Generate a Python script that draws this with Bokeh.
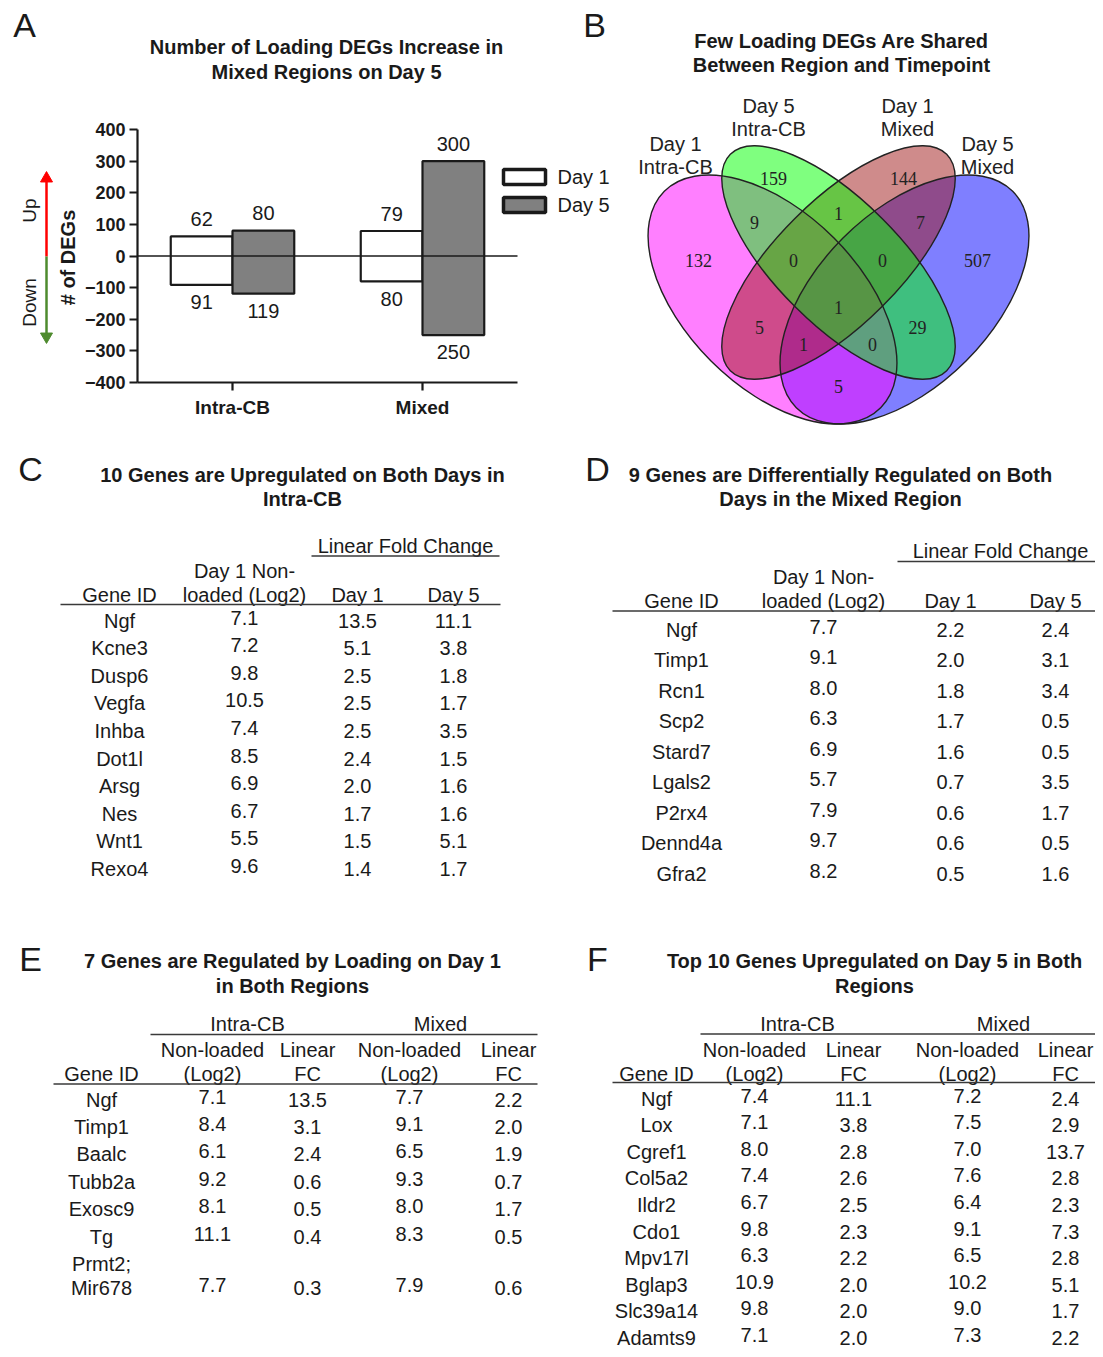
import math
from bokeh.plotting import figure
from bokeh.layouts import column, row
from bokeh.models import Range1d, FixedTicker, ColumnDataSource
from bokeh.embed import file_html
from bokeh.resources import INLINE
from bokeh.core.properties import value

SANS = "Liberation Sans"
SERIF = "Liberation Serif"
INK = "#1a1a1a"
RULE = "#3a3a3a"

# ---------------- Panel A data ----------------
regions = ["Intra-CB", "Mixed"]
day1_up = [62, 79]
day1_down = [91, 80]
day5_up = [80, 300]
day5_down = [119, 250]
a_yticks = [-400, -300, -200, -100, 0, 100, 200, 300, 400]
a_legend = ["Day 1", "Day 5"]
a_title = ["Number of Loading DEGs Increase in", "Mixed Regions on Day 5"]

# ---------------- Panel B data ----------------
b_title = ["Few Loading DEGs Are Shared", "Between Region and Timepoint"]
venn_set_labels = [["Day 1", "Intra-CB"], ["Day 5", "Intra-CB"], ["Day 1", "Mixed"], ["Day 5", "Mixed"]]
venn_region_sets = ["A", "B", "C", "D", "AB", "BC", "CD", "ABC", "BCD", "ABCD", "AC", "BD", "ACD", "ABD", "AD"]
venn_region_counts = [132, 159, 144, 507, 9, 1, 7, 0, 0, 1, 5, 29, 1, 0, 5]

# ---------------- Panel C data ----------------
c_title = ["10 Genes are Upregulated on Both Days in", "Intra-CB"]
c_genes = ["Ngf", "Kcne3", "Dusp6", "Vegfa", "Inhba", "Dot1l", "Arsg", "Nes", "Wnt1", "Rexo4"]
c_nonloaded = [7.1, 7.2, 9.8, 10.5, 7.4, 8.5, 6.9, 6.7, 5.5, 9.6]
c_fc_day1 = [13.5, 5.1, 2.5, 2.5, 2.5, 2.4, 2.0, 1.7, 1.5, 1.4]
c_fc_day5 = [11.1, 3.8, 1.8, 1.7, 3.5, 1.5, 1.6, 1.6, 5.1, 1.7]

# ---------------- Panel D data ----------------
d_title = ["9 Genes are Differentially Regulated on Both", "Days in the Mixed Region"]
d_genes = ["Ngf", "Timp1", "Rcn1", "Scp2", "Stard7", "Lgals2", "P2rx4", "Dennd4a", "Gfra2"]
d_nonloaded = [7.7, 9.1, 8.0, 6.3, 6.9, 5.7, 7.9, 9.7, 8.2]
d_fc_day1 = [2.2, 2.0, 1.8, 1.7, 1.6, 0.7, 0.6, 0.6, 0.5]
d_fc_day5 = [2.4, 3.1, 3.4, 0.5, 0.5, 3.5, 1.7, 0.5, 1.6]

# ---------------- Panel E data ----------------
e_title = ["7 Genes are Regulated by Loading on Day 1", "in Both Regions"]
e_genes = ["Ngf", "Timp1", "Baalc", "Tubb2a", "Exosc9", "Tg", "Prmt2;\nMir678"]
e_intra_nonloaded = [7.1, 8.4, 6.1, 9.2, 8.1, 11.1, 7.7]
e_intra_fc = [13.5, 3.1, 2.4, 0.6, 0.5, 0.4, 0.3]
e_mixed_nonloaded = [7.7, 9.1, 6.5, 9.3, 8.0, 8.3, 7.9]
e_mixed_fc = [2.2, 2.0, 1.9, 0.7, 1.7, 0.5, 0.6]

# ---------------- Panel F data ----------------
f_title = ["Top 10 Genes Upregulated on Day 5 in Both", "Regions"]
f_genes = ["Ngf", "Lox", "Cgref1", "Col5a2", "Ildr2", "Cdo1", "Mpv17l", "Bglap3", "Slc39a14", "Adamts9"]
f_intra_nonloaded = [7.4, 7.1, 8.0, 7.4, 6.7, 9.8, 6.3, 10.9, 9.8, 7.1]
f_intra_fc = [11.1, 3.8, 2.8, 2.6, 2.5, 2.3, 2.2, 2.0, 2.0, 2.0]
f_mixed_nonloaded = [7.2, 7.5, 7.0, 7.6, 6.4, 9.1, 6.5, 10.2, 9.0, 7.3]
f_mixed_fc = [2.4, 2.9, 13.7, 2.8, 2.3, 7.3, 2.8, 5.1, 1.7, 2.2]

table_groups = ["Intra-CB", "Mixed"]


def fmt(v):
    return f"{v:.1f}"


def canvas(x0, x1, y0, y1):
    """A blank figure whose data units are page pixels (y measured downward, stored negated)."""
    p = figure(width=int(x1 - x0), height=int(y1 - y0),
               x_range=Range1d(x0, x1), y_range=Range1d(-y1, -y0),
               x_axis_type=None, y_axis_type=None, title=None,
               toolbar_location=None, output_backend="svg", min_border=0)
    p.frame_align = False
    p.outline_line_color = None
    p.grid.visible = False
    p.background_fill_color = "white"
    p.border_fill_color = "white"
    return p


def put_text(p, xs, ys, texts, size=20, bold=False, align="center", font=SANS,
             color=INK, angle=0.0, flip=True):
    src = ColumnDataSource(dict(x=list(xs), y=[(-y if flip else y) for y in ys], t=list(texts)))
    p.text(x="x", y="y", text="t", source=src, text_font=value(font),
           text_font_size=f"{size}px", text_font_style="bold" if bold else "normal",
           text_align=align, text_baseline="middle", text_color=color, angle=angle)


def put_rules(p, segs, color=RULE, width=1.6):
    p.segment(x0=[s[0] for s in segs], x1=[s[1] for s in segs],
              y0=[-s[2] for s in segs], y1=[-s[2] for s in segs],
              line_color=color, line_width=width)


TOP_H = 428
FULL_W = 1095
FULL_H = 1349
LEFT_W = 80

# ================= Left strip (panel letter A, y-axis annotation) =================
pL = canvas(0, LEFT_W, 0, TOP_H)
put_text(pL, [24], [24], ["A"], size=34)
put_text(pL, [67], [257], ["# of DEGs"], size=20, bold=True, angle=math.pi / 2)
put_text(pL, [29], [210], ["Up"], size=19, angle=math.pi / 2)
put_text(pL, [29], [302], ["Down"], size=19, angle=math.pi / 2)
pL.segment(x0=[46], x1=[46], y0=[-256], y1=[-180], line_color="#ff0000", line_width=2.5)
pL.scatter(x=[46], y=[-178], marker="triangle", size=12, fill_color="#ff0000", line_color="#ff0000")
pL.segment(x0=[46], x1=[46], y0=[-256], y1=[-333], line_color="#4e8b2e", line_width=2.5)
pL.scatter(x=[46], y=[-336], marker="inverted_triangle", size=12, fill_color="#4e8b2e", line_color="#4e8b2e")

# ================= Panel A: bar chart =================
A_X0_PX, A_PX_PER_X = 137.0, 95.0
A_ZERO_PX, A_PX_PER_V = 255.5, 253.0 / 800.0
A_RIGHT = 617


def ax(px):
    return (px - A_X0_PX) / A_PX_PER_X


def av(py):
    return (A_ZERO_PX - py) / A_PX_PER_V


n_reg = len(regions)
pA = figure(width=A_RIGHT - LEFT_W, height=TOP_H, x_range=Range1d(0, 5), y_range=Range1d(-400, av(0)),
            title=None, toolbar_location=None, output_backend="svg",
            min_border_left=int(A_X0_PX) - LEFT_W, min_border_right=A_RIGHT - int(A_X0_PX) - 475,
            min_border_top=0, min_border_bottom=TOP_H - 382)
pA.frame_align = False
pA.outline_line_color = None
pA.grid.visible = False

centers = [1 + 2 * i for i in range(n_reg)]
bw = 0.65
pA.quad(left=[c - bw for c in centers], right=centers,
        bottom=[-d for d in day1_down], top=day1_up,
        fill_color="white", line_color=INK, line_width=2.2)
pA.quad(left=centers, right=[c + bw for c in centers],
        bottom=[-d for d in day5_down], top=day5_up,
        fill_color="#808080", line_color=INK, line_width=2.2)
pA.line(x=[0, 2 * n_reg], y=[0, 0], line_color=INK, line_width=1.6)

off = 55
put_text(pA, [c - bw / 2 for c in centers], [u + off for u in day1_up], [str(u) for u in day1_up], size=20, flip=False)
put_text(pA, [c + bw / 2 for c in centers], [u + off for u in day5_up], [str(u) for u in day5_up], size=20, flip=False)
put_text(pA, [c - bw / 2 for c in centers], [-d - off for d in day1_down], [str(d) for d in day1_down], size=20, flip=False)
put_text(pA, [c + bw / 2 for c in centers], [-d - off for d in day5_down], [str(d) for d in day5_down], size=20, flip=False)

# legend
pA.quad(left=[ax(503)], right=[ax(545)], top=[av(169)], bottom=[av(184)],
        fill_color="white", line_color=INK, line_width=3.5)
pA.quad(left=[ax(503)], right=[ax(545)], top=[av(197)], bottom=[av(212)],
        fill_color="#808080", line_color=INK, line_width=3.5)
put_text(pA, [ax(557), ax(557)], [av(176), av(204)], a_legend, size=20, align="left", flip=False)

# titles and letter B (inside A's frame area)
put_text(pA, [ax(326), ax(326)], [av(46), av(71)], a_title, size=20, bold=True, flip=False)
put_text(pA, [ax(594)], [av(24)], ["B"], size=34, flip=False)

pA.xaxis.ticker = FixedTicker(ticks=centers)
pA.xaxis.major_label_overrides = {c: r for c, r in zip(centers, regions)}
pA.xaxis.bounds = (0, 2 * n_reg)
pA.yaxis.ticker = FixedTicker(ticks=a_yticks)
pA.yaxis.bounds = (a_yticks[0], a_yticks[-1])
for axis in (pA.xaxis, pA.yaxis):
    axis.axis_line_width = 2.2
    axis.axis_line_color = INK
    axis.major_tick_line_width = 2.2
    axis.major_tick_line_color = INK
    axis.major_tick_out = 8
    axis.major_tick_in = 0
    axis.minor_tick_out = 0
    axis.minor_tick_in = 0
    axis.major_label_text_font = SANS
    axis.major_label_text_font_style = "bold"
    axis.major_label_text_color = INK
pA.yaxis.major_label_text_font_size = "18px"
pA.yaxis.major_label_standoff = 4
pA.xaxis.major_label_text_font_size = "19px"
pA.xaxis.major_label_standoff = 6

# ================= Panel B: Venn =================
pB = canvas(A_RIGHT, FULL_W, 0, TOP_H)
put_text(pB, [841, 841], [40, 64], b_title, size=20, bold=True)

# ellipse layout (page px): center x, center y, semi-major, semi-minor, angle (y-up radians)
venn_shapes = {
    "D": (904, 299, 153, 87, math.pi / 4, "#0000ff"),
    "A": (772, 299, 153, 87, -math.pi / 4, "#ff00ff"),
    "C": (838, 262, 153, 62, math.pi / 4, "#a01818"),
    "B": (838, 262, 153, 62, -math.pi / 4, "#00ff00"),
}
order = ["D", "A", "C", "B"]
for k in order:
    cx, cy, a, b, ang, col = venn_shapes[k]
    pB.ellipse(x=[cx], y=[-cy], width=[2 * a], height=[2 * b], angle=[ang],
               fill_color=col, fill_alpha=0.5, line_color=None)
for k in order:
    cx, cy, a, b, ang, col = venn_shapes[k]
    pB.ellipse(x=[cx], y=[-cy], width=[2 * a], height=[2 * b], angle=[ang],
               fill_color=None, line_color="#222222", line_width=1.4)

venn_label_pos = {
    "A": (698, 260), "B": (773, 178), "C": (903, 178), "D": (977, 260),
    "AB": (754, 222), "BC": (838, 213), "CD": (920, 222),
    "ABC": (793, 260), "BCD": (882, 260), "ABCD": (838, 307),
    "AC": (759, 327), "BD": (917, 327), "ACD": (803, 344), "ABD": (872, 344),
    "AD": (838, 386),
}
put_text(pB, [venn_label_pos[k][0] for k in venn_region_sets],
         [venn_label_pos[k][1] for k in venn_region_sets],
         [str(v) for v in venn_region_counts], size=18, font=SERIF, color="#222222")

set_label_pos = [(675, 143), (768, 105), (907, 105), (987, 143)]
for (x, y), lines in zip(set_label_pos, venn_set_labels):
    put_text(pB, [x, x], [y, y + 23.5], lines, size=20, color="#222222")

# ================= Lower canvas: tables C-F =================
pR = canvas(0, FULL_W, TOP_H, FULL_H)

for letter, (x, y) in zip("CDEF", [(30, 468), (597, 468), (30, 958), (597, 958)]):
    put_text(pR, [x], [y], [letter], size=34)

put_text(pR, [302, 302], [474, 498], c_title, size=20, bold=True)
put_text(pR, [840, 840], [474, 498], d_title, size=20, bold=True)
put_text(pR, [292, 292], [960, 985], e_title, size=20, bold=True)
put_text(pR, [874, 874], [960, 985], f_title, size=20, bold=True)


def simple_table(cols_x, header_y, lfc_y, lfc_rule, head_rule, row0, step, genes, nonl, fc1, fc5):
    put_text(pR, [(lfc_rule[0] + lfc_rule[1]) / 2], [lfc_y], ["Linear Fold Change"])
    put_text(pR, [cols_x[1]], [header_y - 24], ["Day 1 Non-"])
    put_text(pR, cols_x, [header_y] * 4, ["Gene ID", "loaded (Log2)", "Day 1", "Day 5"])
    put_rules(pR, [lfc_rule, head_rule])
    ys = [row0 + i * step for i in range(len(genes))]
    put_text(pR, [cols_x[0]] * len(genes), ys, genes)
    put_text(pR, [cols_x[1]] * len(genes), [y - 3 for y in ys], [fmt(v) for v in nonl])
    put_text(pR, [cols_x[2]] * len(genes), ys, [fmt(v) for v in fc1])
    put_text(pR, [cols_x[3]] * len(genes), ys, [fmt(v) for v in fc5])


simple_table([119, 244, 357, 453], 594, 545, (311, 499, 555.5), (60, 500, 604),
             620, 27.6, c_genes, c_nonloaded, c_fc_day1, c_fc_day5)
simple_table([681, 823, 950, 1055], 600, 550, (897, 1103, 561), (612, 1103, 610.5),
             629, 30.5, d_genes, d_nonloaded, d_fc_day1, d_fc_day5)


def region_table(cols_x, group_x, top_rule, head_rule, row0, step, genes, v1, v2, v3, v4):
    put_text(pR, group_x, [1023, 1023], table_groups)
    put_text(pR, cols_x[1:], [1049] * 4, ["Non-loaded", "Linear", "Non-loaded", "Linear"])
    put_text(pR, cols_x, [1073] * 5, ["Gene ID", "(Log2)", "FC", "(Log2)", "FC"])
    put_rules(pR, [top_rule, head_rule])
    y = row0 - step
    gx, gy, gt, vy = [], [], [], []
    for g in genes:
        lines = g.split("\n")
        for j, ln in enumerate(lines):
            y += step if j == 0 else 24
            gx.append(cols_x[0]); gy.append(y); gt.append(ln)
        vy.append(y)
    put_text(pR, gx, gy, gt)
    put_text(pR, [cols_x[1]] * len(vy), [t - 3 for t in vy], [fmt(v) for v in v1])
    put_text(pR, [cols_x[2]] * len(vy), vy, [fmt(v) for v in v2])
    put_text(pR, [cols_x[3]] * len(vy), [t - 3 for t in vy], [fmt(v) for v in v3])
    put_text(pR, [cols_x[4]] * len(vy), vy, [fmt(v) for v in v4])


region_table([101, 212, 307, 409, 508], [247, 440], (150, 537, 1034), (53, 537, 1083.5),
             1099, 27.4, e_genes, e_intra_nonloaded, e_intra_fc, e_mixed_nonloaded, e_mixed_fc)
region_table([656, 754, 853, 967, 1065], [797, 1003], (700, 1103, 1033.5), (612, 1103, 1082),
             1098, 26.6, f_genes, f_intra_nonloaded, f_intra_fc, f_mixed_nonloaded, f_mixed_fc)

layout = column(row(pL, pA, pB), pR)
open("out.html", "w").write(file_html(layout, INLINE))
